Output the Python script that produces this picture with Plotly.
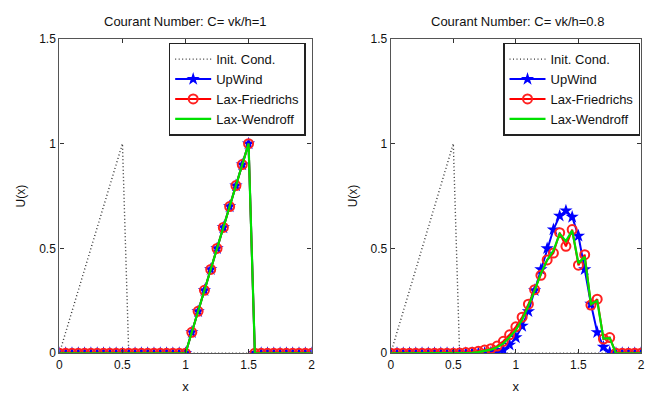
import plotly.graph_objects as go

X = [0.00, 0.05, 0.10, 0.15, 0.20, 0.25, 0.30, 0.35, 0.40, 0.45,
     0.50, 0.55, 0.60, 0.65, 0.70, 0.75, 0.80, 0.85, 0.90, 0.95,
     1.00, 1.05, 1.10, 1.15, 1.20, 1.25, 1.30, 1.35, 1.40, 1.45,
     1.50, 1.55, 1.60, 1.65, 1.70, 1.75, 1.80, 1.85, 1.90, 1.95, 2.00]

INIT = [0.0, 0.1, 0.2, 0.3, 0.4, 0.5, 0.6, 0.7, 0.8, 0.9,
        1.0, 0, 0, 0, 0, 0, 0, 0, 0, 0,
        0, 0, 0, 0, 0, 0, 0, 0, 0, 0,
        0, 0, 0, 0, 0, 0, 0, 0, 0, 0, 0]

# C = 1 (all schemes exact)
UP1 = [0, 0, 0, 0, 0, 0, 0, 0, 0, 0,
       0, 0, 0, 0, 0, 0, 0, 0, 0, 0,
       0.0, 0.1, 0.2, 0.3, 0.4, 0.5, 0.6, 0.7, 0.8, 0.9,
       1.0, 0, 0, 0, 0, 0, 0, 0, 0, 0, 0]
LF1 = [0, 0, 0, 0, 0, 0, 0, 0, 0, 0,
       0, 0, 0, 0, 0, 0, 0, 0, 0, 0,
       0.0, 0.1, 0.2, 0.3, 0.4, 0.5, 0.6, 0.7, 0.8, 0.9,
       1.0, 0, 0, 0, 0, 0, 0, 0, 0, 0, 0]
LW1 = [0, 0, 0, 0, 0, 0, 0, 0, 0, 0,
       0, 0, 0, 0, 0, 0, 0, 0, 0, 0,
       0.0, 0.1, 0.2, 0.3, 0.4, 0.5, 0.6, 0.7, 0.8, 0.9,
       1.0, 0, 0, 0, 0, 0, 0, 0, 0, 0, 0]

# C = 0.8
UP2 = [0, 0, 0, 0, 0, 0, 0, 0, 0, 0,
       0, 0, 0, 0, 0, 0.001, 0.002, 0.005, 0.015, 0.04,
       0.075, 0.13, 0.20, 0.30, 0.40, 0.50, 0.59, 0.655, 0.68, 0.65,
       0.56, 0.40, 0.235, 0.10, 0.03, 0.005, 0, 0, 0, 0, 0]
LF2 = [0, 0, 0, 0, 0, 0, 0, 0, 0, 0,
       0, 0.001, 0.003, 0.005, 0.009, 0.015, 0.022, 0.034, 0.057, 0.088,
       0.126, 0.172, 0.234, 0.303, 0.372, 0.445, 0.478, 0.575, 0.51, 0.59,
       0.42, 0.47, 0.23, 0.258, 0.068, 0.075, 0, 0, 0, 0, 0]
LW2 = [0, 0, 0, 0, 0, 0, 0, 0, 0, 0,
       0, 0, 0, 0.002, 0.005, 0.01, 0.017, 0.028, 0.047, 0.077,
       0.11, 0.16, 0.225, 0.30, 0.38, 0.445, 0.49, 0.57, 0.535, 0.585,
       0.43, 0.46, 0.235, 0.25, 0.07, 0.072, 0, 0, 0, 0, 0]

TITLES = ["Courant Number: C= vk/h=1", "Courant Number: C= vk/h=0.8"]
NAMES = ["Init. Cond.", "UpWind", "Lax-Friedrichs", "Lax-Wendroff"]
XTICKS = [0, 0.5, 1, 1.5, 2]
YTICKS = [0, 0.5, 1, 1.5]

W, H = 645, 394
FONT = "Liberation Sans, Arial, sans-serif"

fig = go.Figure()
panels = [(INIT, UP1, LF1, LW1, "x", "y", "legend"),
          (INIT, UP2, LF2, LW2, "x2", "y2", "legend2")]
for ini, up, lf, lw, xa, ya, lg in panels:
    fig.add_trace(go.Scatter(x=X, y=ini, name=NAMES[0], mode="lines",
                             line=dict(color="#333", width=1.4, dash="1px,2.5px"),
                             xaxis=xa, yaxis=ya, legend=lg))
    fig.add_trace(go.Scatter(x=X, y=up, name=NAMES[1], mode="lines+markers",
                             line=dict(color="#0000ff", width=2),
                             marker=dict(symbol="star", size=10, color="#0000ff",
                                         line=dict(width=0)),
                             xaxis=xa, yaxis=ya, legend=lg))
    fig.add_trace(go.Scatter(x=X, y=lf, name=NAMES[2], mode="lines+markers",
                             line=dict(color="#ff0000", width=2),
                             marker=dict(symbol="circle-open", size=9, color="#ff2020",
                                         line=dict(width=2)),
                             xaxis=xa, yaxis=ya, legend=lg))
    fig.add_trace(go.Scatter(x=X, y=lw, name=NAMES[3], mode="lines",
                             line=dict(color="#00e000", width=2.2),
                             xaxis=xa, yaxis=ya, legend=lg))

def xax(domain, anchor):
    return dict(domain=domain, anchor=anchor, range=[0, 2], tickvals=XTICKS,
                ticktext=["0", "0.5", "1", "1.5", "2"],
                ticks="inside", ticklen=4, tickcolor="#333", showline=True,
                linecolor="#555", linewidth=1.3, mirror="ticks", showgrid=False,
                zeroline=False, tickfont=dict(size=12, color="#111", family=FONT),
                title=dict(text="x", font=dict(size=13, color="#111", family=FONT), standoff=11))

def yax(domain, anchor):
    return dict(domain=domain, anchor=anchor, range=[0, 1.5], tickvals=YTICKS,
                ticktext=["0", "0.5", "1", "1.5"],
                ticks="inside", ticklen=4, tickcolor="#333", showline=True,
                linecolor="#555", linewidth=1.3, mirror="ticks", showgrid=False,
                zeroline=False, tickfont=dict(size=12, color="#111", family=FONT),
                title=dict(text="U(x)", font=dict(size=12, color="#111", family=FONT), standoff=10))

ydom = [(H - 359) / H, (H - 33) / H]
leg = dict(bgcolor="white", bordercolor="#222", borderwidth=1.5,
           font=dict(size=13, color="#111", family=FONT), xanchor="right",
           yanchor="top", y=(H - 37) / H, tracegroupgap=0, itemwidth=36)

fig.update_layout(
    width=W, height=H, margin=dict(l=0, r=0, t=0, b=0),
    paper_bgcolor="white", plot_bgcolor="white",
    xaxis=xax([57 / W, 312 / W], "y"),
    yaxis=yax(ydom, "x"),
    xaxis2=xax([392 / W, 1.0], "y2"),
    yaxis2=yax(ydom, "x2"),
    legend=dict(leg, x=306 / W),
    legend2=dict(leg, x=644 / W),
    showlegend=True,
    annotations=[
        dict(text=TITLES[0], x=184 / W, y=(H - 15) / H, xref="paper", yref="paper",
             xanchor="center", yanchor="middle",
             showarrow=False, font=dict(size=13, color="#111", family=FONT)),
        dict(text=TITLES[1], x=520 / W, y=(H - 15) / H, xref="paper", yref="paper",
             xanchor="center", yanchor="middle",
             showarrow=False, font=dict(size=13, color="#111", family=FONT)),
    ],
)

fig.write_html("out.html")
